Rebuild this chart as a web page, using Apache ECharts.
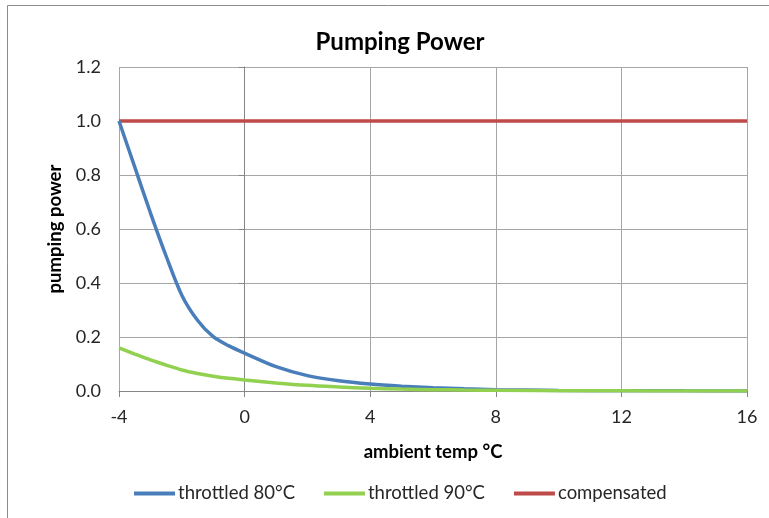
<!DOCTYPE html>
<html>
<head>
<meta charset="utf-8">
<script src="https://cdn.jsdelivr.net/npm/echarts@6/dist/echarts.min.js"></script>
<style>
  html, body { margin: 0; padding: 0; background: #ffffff; }
  #chart { width: 769px; height: 518px; }
</style>
</head>
<body>
<div id="chart"></div>
<script>
// Ambient temperature (°C) sample points
const temps = [-4, -3.5, -3, -2.5, -2, -1.5, -1, -0.5, 0, 1, 2, 3, 4, 5, 6, 7, 8, 10, 12, 14, 16];
// Relative pumping power per control strategy
const throttled80 = [1.0, 0.83, 0.66, 0.50, 0.355, 0.262, 0.201, 0.167, 0.14, 0.09, 0.057, 0.038, 0.026, 0.018, 0.012, 0.008, 0.005, 0.002, 0.001, 0.0005, 0.0002];
const throttled90 = [0.16, 0.137, 0.115, 0.096, 0.078, 0.065, 0.055, 0.047, 0.041, 0.03, 0.021, 0.015, 0.01, 0.007, 0.005, 0.0035, 0.0025, 0.0012, 0.0006, 0.0003, 0.0001];
const compensated = [1, 1, 1, 1, 1, 1, 1, 1, 1, 1, 1, 1, 1, 1, 1, 1, 1, 1, 1, 1, 1];
const seriesNames = ['throttled 80°C', 'throttled 90°C', 'compensated'];
const xTicks = { min: -4, max: 16, step: 4 };
const yTicks = { min: 0, max: 1.2, step: 0.2 };

const FONT = 'Lato, "Liberation Sans", sans-serif';
const pairs = vals => temps.map((t, i) => [t, vals[i]]);

const chart = echarts.init(document.getElementById('chart'), null, { renderer: 'canvas' });
chart.setOption({
  animation: false,
  backgroundColor: '#ffffff',
  graphic: [{
    type: 'rect',
    shape: { x: 7.5, y: 5.5, width: 800, height: 600 },
    style: { fill: 'none', stroke: '#8c8c8c', lineWidth: 1 },
    silent: true
  }],
  title: {
    text: 'Pumping Power',
    left: 395,
    top: 25,
    textAlign: 'center',
    textStyle: { fontFamily: FONT, fontWeight: 'bold', fontSize: 24, color: '#000000' }
  },
  grid: { left: 119, right: 22, top: 67, bottom: 127, containLabel: false },
  xAxis: {
    type: 'value',
    min: xTicks.min, max: xTicks.max, interval: xTicks.step,
    name: 'ambient temp °C',
    nameLocation: 'middle',
    nameGap: 52,
    nameTextStyle: { fontFamily: FONT, fontWeight: 'bold', fontSize: 18.5, color: '#000000' },
    axisLine: { onZero: false, lineStyle: { color: '#868686', width: 1 } },
    axisTick: { show: true, length: 6, lineStyle: { color: '#868686' } },
    axisLabel: { fontFamily: FONT, fontSize: 18, color: '#262626', margin: 17 },
    splitLine: { show: true, lineStyle: { color: '#a6a6a6', width: 1 } }
  },
  yAxis: {
    type: 'value',
    min: yTicks.min, max: yTicks.max, interval: yTicks.step,
    name: 'pumping power',
    nameLocation: 'middle',
    nameGap: 54,
    nameRotate: 90,
    nameTextStyle: { fontFamily: FONT, fontWeight: 'bold', fontSize: 18.5, color: '#000000' },
    axisLine: { show: true, lineStyle: { color: '#868686', width: 1 } },
    axisTick: { show: true, length: 6, lineStyle: { color: '#868686' } },
    axisLabel: { fontFamily: FONT, fontSize: 18, color: '#262626', margin: 18,
      formatter: v => v.toFixed(1) },
    splitLine: { show: true, lineStyle: { color: '#a6a6a6', width: 1 } }
  },
  legend: {
    top: 479,
    left: 129,
    itemWidth: 41,
    itemHeight: 4,
    itemGap: 29,
    icon: 'rect',
    textStyle: { fontFamily: FONT, fontSize: 18.5, color: '#262626', padding: [0, 0, 0, -2] },
    data: seriesNames
  },
  series: [
    { name: seriesNames[0], type: 'line', data: pairs(throttled80), smooth: 0.3,
      showSymbol: false, lineStyle: { width: 3.5, color: '#4a7ebb' }, itemStyle: { color: '#4a7ebb' }, z: 3 },
    { name: seriesNames[1], type: 'line', data: pairs(throttled90), smooth: 0.3,
      showSymbol: false, lineStyle: { width: 3.5, color: '#92d050' }, itemStyle: { color: '#92d050' }, z: 4 },
    { name: seriesNames[2], type: 'line', data: pairs(compensated), smooth: false,
      showSymbol: false, lineStyle: { width: 3.5, color: '#be4b48' }, itemStyle: { color: '#be4b48' }, z: 2 }
  ]
});
</script>
</body>
</html>
